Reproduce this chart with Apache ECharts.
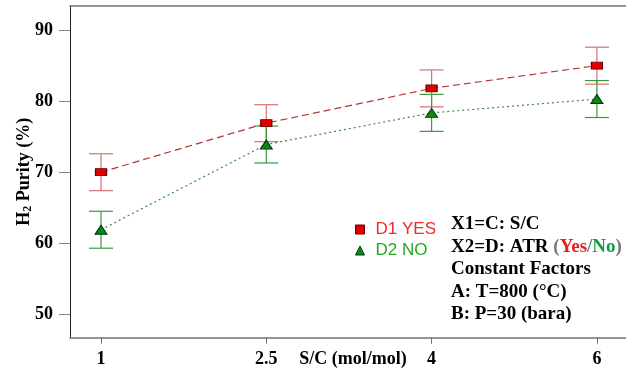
<!DOCTYPE html>
<html>
<head>
<meta charset="utf-8">
<script src="https://cdn.jsdelivr.net/npm/echarts@6/dist/echarts.min.js"></script>
<style>
  html, body { margin: 0; padding: 0; background: #fff; }
  #chart { width: 626px; height: 375px; }
</style>
</head>
<body>
<div id="chart"></div>
<script>
// S/C levels, plotted at equal spacing (index 0..3)
const categories = ["1", "2.5", "4", "6"];
const yTicks = [50, 60, 70, 80, 90];

// H2 purity (%)
const d1Yes = [70.0, 76.9, 81.8, 85.0];
const d2No = [61.9, 73.9, 78.35, 80.3];
// half width of the error bars
const d1Err = [2.6, 2.6, 2.6, 2.6];
const d2Err = [2.6, 2.6, 2.6, 2.6];

const serif = "'Liberation Serif', 'Times New Roman', serif";
const sans = "'Liberation Sans', Arial, sans-serif";

const pts = vals => vals.map((v, i) => [i, v]);
const errPts = (vals, errs) => vals.map((v, i) => [i, v - errs[i], v + errs[i]]);

function errorBar(color) {
    return function (params, api) {
        const x = api.value(0);
        const lo = api.coord([x, api.value(1)]);
        const hi = api.coord([x, api.value(2)]);
        const cap = 12;
        const style = { stroke: color, lineWidth: 1.2 };
        return {
            type: "group",
            children: [
                { type: "line", shape: { x1: lo[0], y1: lo[1], x2: hi[0], y2: hi[1] }, style: style },
                { type: "line", shape: { x1: lo[0] - cap, y1: lo[1], x2: lo[0] + cap, y2: lo[1] }, style: style },
                { type: "line", shape: { x1: hi[0] - cap, y1: hi[1], x2: hi[0] + cap, y2: hi[1] }, style: style }
            ]
        };
    };
}

const chart = echarts.init(document.getElementById("chart"));
chart.setOption({
    animation: false,
    grid: { left: 70, top: 6, right: 0, bottom: 37.3, outerBoundsMode: "none" },
    xAxis: [
        {
            type: "value",
            min: -0.1875,
            max: 3.176,
            splitLine: { show: false },
            axisLine: { onZero: false, lineStyle: { color: "#707070", width: 1.6 } },
            axisTick: { customValues: [0, 1, 2, 3], length: 6, lineStyle: { color: "#707070" } },
            axisLabel: {
                customValues: [0, 1, 2, 3],
                formatter: v => categories[Math.round(v)],
                margin: 13,
                color: "#000",
                fontFamily: serif,
                fontWeight: "bold",
                fontSize: 18
            },
            name: "S/C (mol/mol)",
            nameLocation: "middle",
            nameGap: 13,
            nameMoveOverlap: false,
            nameTextStyle: { color: "#000", fontFamily: serif, fontWeight: "bold", fontSize: 18, padding: [0, 0, 0, 10] }
        },
        {
            type: "value",
            position: "top",
            min: -0.1875,
            max: 3.176,
            splitLine: { show: false },
            axisLine: { onZero: false, lineStyle: { color: "#707070", width: 1.6 } },
            axisTick: { show: false },
            axisLabel: { show: false }
        }
    ],
    yAxis: {
        type: "value",
        min: 46.7,
        max: 93.4,
        splitLine: { show: false },
        axisLine: { show: true, onZero: false, lineStyle: { color: "#222", width: 1 } },
        axisTick: { show: true, customValues: yTicks, length: 11, lineStyle: { color: "#888" } },
        axisLabel: {
            customValues: yTicks,
            margin: 17,
            color: "#000",
            fontFamily: serif,
            fontWeight: "bold",
            fontSize: 18
        },
        name: "{n|H}{s|2}{n| Purity (%)}",
        nameLocation: "middle",
        nameGap: 36,
        nameMoveOverlap: false,
        nameTextStyle: {
            rich: {
                n: { fontFamily: serif, fontWeight: "bold", fontSize: 18, color: "#000" },
                s: { fontFamily: serif, fontWeight: "bold", fontSize: 12, color: "#000", padding: [8, 0, 0, 0] }
            }
        }
    },
    legend: {
        orient: "vertical",
        left: 350,
        top: 216,
        itemGap: 4,
        itemWidth: 9,
        itemHeight: 9,
        textStyle: { fontFamily: sans, fontSize: 17, padding: [0, 0, 0, 6] },
        data: [
            { name: "D1 YES", icon: "rect", itemStyle: { color: "#e00000", borderColor: "#600", borderWidth: 1 }, textStyle: { color: "#ee2a2a" } },
            { name: "D2 NO", icon: "triangle", itemStyle: { color: "#0a8a0a", borderColor: "#032", borderWidth: 1 }, textStyle: { color: "#22aa22" } }
        ]
    },
    graphic: [
        {
            type: "text",
            left: 451,
            top: 215,
            style: {
                text: "{b|X1=C: S/C}\n{b|X2=D: ATR }{g|(}{r|Yes}{g|/}{gr|No}{g|)}\n{b|Constant Factors}\n{b|A: T=800 (°C)}\n{b|B: P=30 (bara)}",
                rich: {
                    b: { fontFamily: serif, fontWeight: "bold", fontSize: 19, fill: "#000", lineHeight: 22.5 },
                    g: { fontFamily: serif, fontWeight: "bold", fontSize: 19, fill: "#777", lineHeight: 22.5 },
                    r: { fontFamily: serif, fontWeight: "bold", fontSize: 19, fill: "#e81c1c", lineHeight: 22.5 },
                    gr: { fontFamily: serif, fontWeight: "bold", fontSize: 19, fill: "#12a043", lineHeight: 22.5 }
                }
            }
        }
    ],
    series: [
        {
            name: "D1 err",
            type: "custom",
            renderItem: errorBar("#d77070"),
            encode: { x: 0, y: [1, 2] },
            data: errPts(d1Yes, d1Err),
            z: 1
        },
        {
            name: "D2 err",
            type: "custom",
            renderItem: errorBar("#3e983e"),
            encode: { x: 0, y: [1, 2] },
            data: errPts(d2No, d2Err),
            z: 1
        },
        {
            name: "D1 YES",
            type: "line",
            data: pts(d1Yes),
            symbol: "rect",
            symbolSize: [11, 7],
            showAllSymbol: true,
            itemStyle: { color: "#e00000", borderColor: "#600", borderWidth: 1 },
            lineStyle: { color: "#b83434", width: 1.2, type: [7, 4] },
            z: 3
        },
        {
            name: "D2 NO",
            type: "line",
            data: pts(d2No),
            symbol: "triangle",
            symbolSize: [12, 9],
            showAllSymbol: true,
            itemStyle: { color: "#0a8a0a", borderColor: "#032", borderWidth: 1 },
            lineStyle: { color: "#3a8a3a", width: 1.2, type: [2, 3] },
            z: 3
        }
    ]
});
</script>
</body>
</html>
